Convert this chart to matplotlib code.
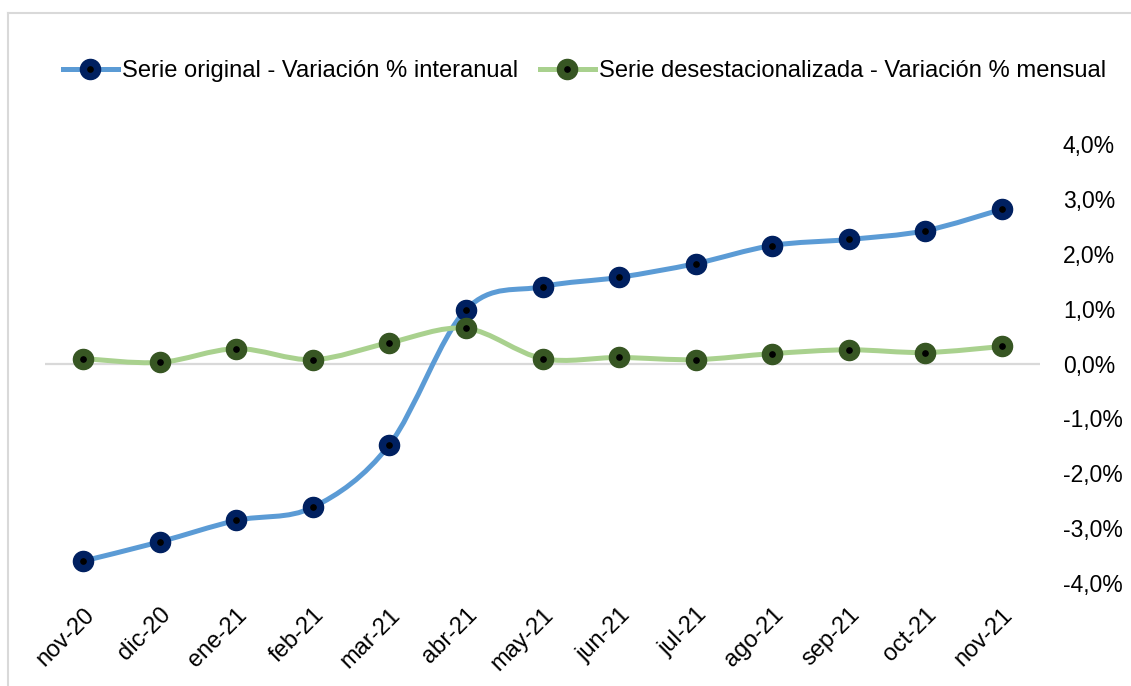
import numpy as np
import matplotlib
matplotlib.use("Agg")
import matplotlib.pyplot as plt
from matplotlib.path import Path
from matplotlib.patches import PathPatch
from matplotlib.lines import Line2D
from matplotlib.legend_handler import HandlerTuple

plt.rcParams['font.family'] = ['Liberation Sans', 'DejaVu Sans']

# datos
meses = ["nov-20", "dic-20", "ene-21", "feb-21", "mar-21", "abr-21", "may-21",
         "jun-21", "jul-21", "ago-21", "sep-21", "oct-21", "nov-21"]
interanual = [-3.60, -3.25, -2.86, -2.62, -1.48, 0.98, 1.40,
              1.57, 1.82, 2.15, 2.26, 2.42, 2.81]
mensual = [0.09, 0.02, 0.27, 0.07, 0.38, 0.64, 0.09,
           0.11, 0.07, 0.18, 0.25, 0.20, 0.31]
y_ticks = [-4, -3, -2, -1, 0, 1, 2, 3, 4]

azul, azul_osc = "#5B9BD5", "#002060"
verde, verde_osc = "#A9D18E", "#375623"


def curva_suave(x, y):
    # bezier tipo excel (catmull-rom)
    x = np.asarray(x, float)
    y = np.asarray(y, float)
    pts = np.column_stack([x, y])
    verts = [pts[0]]
    codes = [Path.MOVETO]
    n = len(pts)
    for i in range(n - 1):
        p0 = pts[i - 1] if i > 0 else pts[i]
        p1 = pts[i]
        p2 = pts[i + 1]
        p3 = pts[i + 2] if i + 2 < n else pts[i + 1]
        c1 = p1 + (p2 - p0) / 6
        c2 = p2 - (p3 - p1) / 6
        verts += [c1, c2, p2]
        codes += [Path.CURVE4] * 3
    return Path(verts, codes)


fig = plt.figure(figsize=(11.31, 6.86), dpi=100)
ax = fig.add_axes([45 / 1131, 1 - 583 / 686, (1040 - 45) / 1131, (583 - 144) / 686])

x = np.arange(len(meses))
ax.axhline(0, color="#D9D9D9", lw=1.6, zorder=1)

for serie, c_lin, c_mk in [(interanual, azul, azul_osc), (mensual, verde, verde_osc)]:
    ax.add_patch(PathPatch(curva_suave(x, serie), fill=False, edgecolor=c_lin,
                           lw=3.6, capstyle="round", joinstyle="round", zorder=2))
    ax.plot(x, serie, ls="none", marker="o", ms=14.5, mfc=c_mk, mec=c_mk, zorder=3)
    ax.plot(x, serie, ls="none", marker="o", ms=3.8, mfc="black", mec="black", zorder=4)

ax.set_xlim(-0.5, 12.5)
ax.set_ylim(-4, 4)
ax.set_yticks(y_ticks)
ax.set_yticklabels([f"{v:.1f}%".replace(".", ",") for v in y_ticks])
ax.yaxis.tick_right()
ax.tick_params(axis="y", length=0, pad=16.5, labelsize=16.5)
ax.set_xticks(x)
ax.set_xticklabels(meses, rotation=45, ha="right", rotation_mode="anchor")
ax.tick_params(axis="x", length=0, pad=15, labelsize=17)
for s in ax.spines.values():
    s.set_visible(False)

# leyenda
h1 = (Line2D([], [], color=azul, lw=3.6, marker="o", ms=14.5, mfc=azul_osc, mec=azul_osc),
      Line2D([], [], ls="none", marker="o", ms=3.8, mfc="black", mec="black"))
h2 = (Line2D([], [], color=verde, lw=3.6, marker="o", ms=14.5, mfc=verde_osc, mec=verde_osc),
      Line2D([], [], ls="none", marker="o", ms=3.8, mfc="black", mec="black"))
fig.legend([h1, h2],
           ["Serie original - Variación % interanual",
            "Serie desestacionalizada - Variación % mensual"],
           handler_map={tuple: HandlerTuple(ndivide=1)},
           loc="center left", bbox_to_anchor=(63 / 1131, 1 - 71 / 686),
           ncol=2, frameon=False, fontsize=17.1, handlelength=2.3,
           handletextpad=0.2, columnspacing=0.9, borderpad=0, borderaxespad=0)

# borde del grafico
fig.add_artist(Line2D([8 / 1131, 1], [1 - 13 / 686, 1 - 13 / 686], color="#D9D9D9", lw=1.5))
fig.add_artist(Line2D([8 / 1131, 8 / 1131], [0, 1 - 13 / 686], color="#D9D9D9", lw=1.5))

fig.savefig("out.png", dpi=100)
